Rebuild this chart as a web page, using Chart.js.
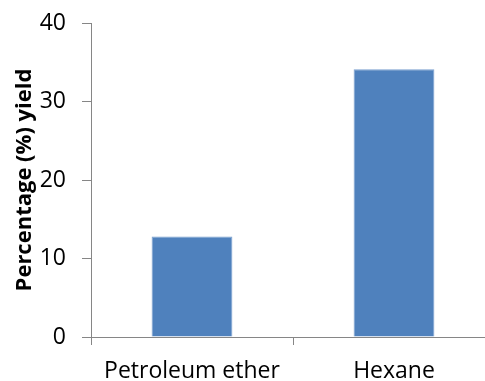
<!DOCTYPE html>
<html>
<head>
<meta charset="utf-8">
<script src="https://cdn.jsdelivr.net/npm/chart.js@4/dist/chart.umd.min.js"></script>
<style>
html,body{margin:0;padding:0;background:#fff;overflow:hidden;}
#wrap{width:495px;height:381px;}
</style>
</head>
<body>
<div id="wrap"><canvas id="c" width="495" height="381"></canvas></div>
<script>
const categories = ["Petroleum ether", "Hexane"];
const yieldValues = [12.8, 34.1];
const yTicks = [0, 10, 20, 30, 40];
const yTitle = "Percentage (%) yield";

const FONT = "'Open Sans', sans-serif";
const AXIS = "#868686";

new Chart(document.getElementById('c'), {
  type: 'bar',
  data: {
    labels: categories,
    datasets: [{
      data: yieldValues,
      backgroundColor: '#4f81bd',
      borderColor: '#7aa0cf',
      borderWidth: 1,
      barPercentage: 0.4,
      categoryPercentage: 1.0
    }]
  },
  options: {
    responsive: false,
    animation: false,
    layout: { padding: { top: 23, left: 0, right: 0, bottom: 0 } },
    plugins: { legend: { display: false }, tooltip: { enabled: false } },
    scales: {
      x: {
        offset: true,
        grid: { offset: true, drawOnChartArea: false, drawTicks: true, tickLength: 8, color: AXIS, lineWidth: 1 },
        border: { color: AXIS, width: 1 },
        ticks: { color: '#000', font: { family: FONT, size: 23 }, padding: 13, maxRotation: 0 },
        afterFit: s => { s.height = 44; s.paddingLeft = 0; s.paddingRight = 0; }
      },
      y: {
        min: 0, max: 40,
        afterBuildTicks: s => { s.ticks = yTicks.map(v => ({ value: v })); },
        grid: { drawOnChartArea: false, drawTicks: true, tickLength: 9, color: AXIS, lineWidth: 1 },
        border: { color: AXIS, width: 1 },
        ticks: { color: '#000', font: { family: FONT, size: 23 }, padding: 16 },
        title: { display: true, text: yTitle, color: '#000', font: { family: FONT, size: 22, weight: 'bold' }, padding: { top: 12, bottom: 0 } },
        afterFit: s => { s.width = 91; s.paddingTop = 0; s.paddingBottom = 0; }
      }
    }
  }
});
</script>
</body>
</html>
